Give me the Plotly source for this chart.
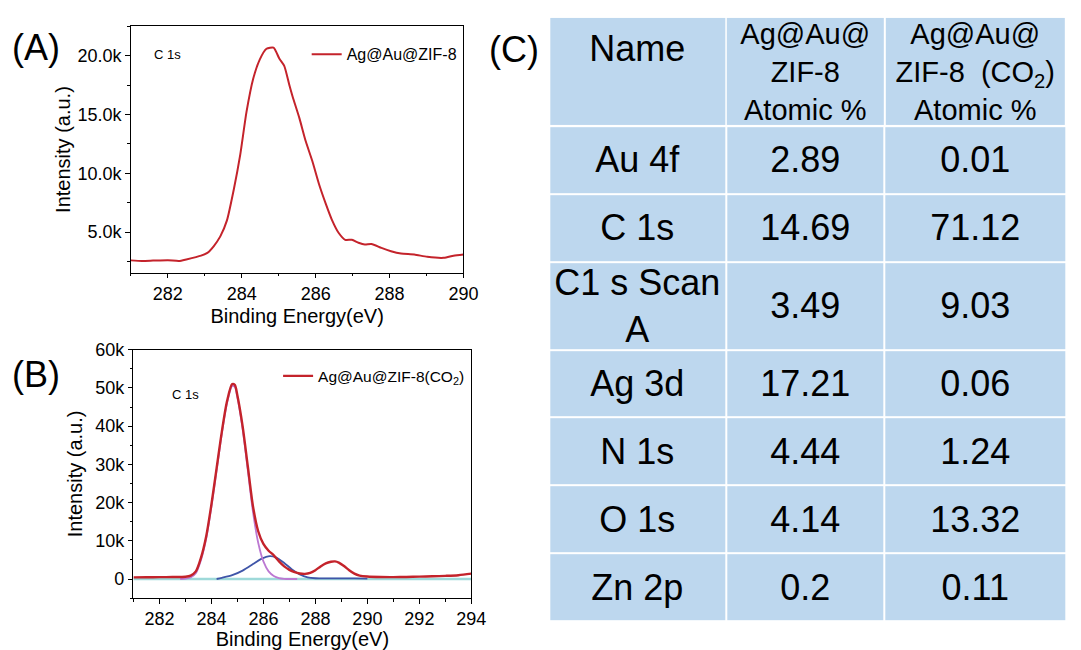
import plotly.graph_objects as go

# ---------------- data ----------------
# (A) Ag@Au@ZIF-8, C 1s
a_energy = [281.0, 281.3, 281.6, 282.0, 282.3, 282.5, 282.9, 283.07, 283.24, 283.42,
            283.6, 283.78, 283.96, 284.13, 284.31, 284.49, 284.67, 284.86, 285.02, 285.15,
            285.29, 285.38, 285.56, 285.73, 285.91, 286.09, 286.27, 286.44, 286.62, 286.8,
            286.98, 287.16, 287.33, 287.51, 287.78, 288.04, 288.31, 288.67, 289.02, 289.47,
            289.73, 290.0]
a_intensity = [2600, 2550, 2580, 2620, 2550, 2680, 3000, 3240, 3800, 4640,
               6000, 8550, 11600, 15250, 18050, 19700, 20600, 20700, 19750, 19150,
               17500, 16500, 14700, 12750, 11050, 9100, 7450, 6050, 4950, 4350,
               4350, 4100, 3950, 4000, 3660, 3380, 3180, 3100, 2900, 2820,
               3000, 3100]

# (B) Ag@Au@ZIF-8(CO2), C 1s envelope
b_energy = [281.0, 281.5, 282.0, 282.5, 283.0, 283.2, 283.4, 283.6, 283.8, 284.0,
            284.2, 284.4, 284.6, 284.8, 284.9, 285.0, 285.2, 285.4, 285.6, 285.8,
            286.0, 286.2, 286.4, 286.6, 286.8, 287.0, 287.2, 287.4, 287.6, 287.8,
            288.0, 288.2, 288.4, 288.6, 288.75, 288.9, 289.1, 289.3, 289.5, 289.7,
            290.0, 290.5, 291.0, 291.5, 292.0, 292.5, 293.0, 293.5, 294.0]
b_intensity = [430, 450, 480, 520, 600, 900, 2000, 5600, 11200, 19500,
               29000, 38500, 46500, 51000, 50800, 48000, 40000, 29500, 19000, 12500,
               9200, 7400, 6200, 4600, 3300, 2400, 1800, 1450, 1350, 1600,
               2300, 3300, 4100, 4500, 4600, 4300, 3400, 2300, 1400, 900,
               650, 520, 500, 540, 620, 700, 820, 1000, 1400]

# (B) fitted component at ~284.8 eV
p1_energy = [282.8, 283.0, 283.2, 283.4, 283.6, 283.8, 284.0, 284.2, 284.4, 284.6,
             284.8, 284.9, 285.0, 285.2, 285.4, 285.6, 285.8, 286.0, 286.2, 286.4,
             286.6, 286.8, 287.0, 287.3]
p1_intensity = [0, 100, 400, 1500, 5000, 10600, 18900, 28400, 38000, 46000,
                50500, 50300, 47500, 39300, 28500, 17500, 9500, 4600, 2000, 800,
                250, 60, 0, 0]

# (B) fitted component at ~286.3 eV
p2_energy = [284.2, 284.4, 284.8, 285.2, 285.6, 285.9, 286.25, 286.5, 286.8,
             287.1, 287.4, 287.7, 288.0, 288.5, 289.0, 289.5, 290.0]
p2_intensity = [0, 300, 1000, 2200, 3900, 5200, 6000, 5600, 4200,
                2500, 1200, 450, 200, 150, 150, 150, 100]

# (B) zero baseline
base_energy = [281.0, 294.0]
base_intensity = [0, 0]

# tick labels
a_xticks = [282, 284, 286, 288, 290]
a_yticks = [5000, 10000, 15000, 20000]
a_yticklabels = ["5.0k", "10.0k", "15.0k", "20.0k"]
b_xticks = [282, 284, 286, 288, 290, 292, 294]
b_yticks = [0, 10000, 20000, 30000, 40000, 50000, 60000]
b_yticklabels = ["0", "10k", "20k", "30k", "40k", "50k", "60k"]

# (C) table
tbl_header = ["Name", "Ag@Au@<br>ZIF-8<br>Atomic %", "Ag@Au@<br>ZIF-8  (CO<sub>2</sub>)<br>Atomic %"]
tbl_names = ["Au 4f", "C 1s", "C1 s Scan<br>A", "Ag 3d", "N 1s", "O 1s", "Zn 2p"]
tbl_zif8 = ["2.89", "14.69", "3.49", "17.21", "4.44", "4.14", "0.2"]
tbl_zif8_co2 = ["0.01", "71.12", "9.03", "0.06", "1.24", "13.32", "0.11"]

# ---------------- styles / layout sizes ----------------
FONT = "Liberation Sans, Arial, sans-serif"
RED = "#C4232B"
ORCHID = "#BC78D2"
BLUE = "#3F55A8"
CYAN = "#9ED9D9"
CELL = "#BDD7EE"
W, H = 1081, 650

col_widths = [179, 161, 184]          # table column widths (px)
header_height = 111                   # table header row height (px)
row_heights = [69, 69, 89, 69, 69, 69, 69]

def cumulative(start, sizes):
    edges = [start]
    for s in sizes:
        edges.append(edges[-1] + s)
    return edges

col_edges = cumulative(0, col_widths)
row_edges = cumulative(header_height, row_heights)
table_w = col_edges[-1]
table_h = row_edges[-1]

fig = go.Figure()

# (A)
fig.add_trace(go.Scatter(x=a_energy, y=a_intensity, mode="lines", name="Ag@Au@ZIF-8",
                         line=dict(color=RED, width=2, shape="spline", smoothing=0.6),
                         xaxis="x", yaxis="y", legend="legend"))
# (B)
fig.add_trace(go.Scatter(x=base_energy, y=base_intensity, mode="lines", showlegend=False,
                         line=dict(color=CYAN, width=2.4), xaxis="x2", yaxis="y2"))
fig.add_trace(go.Scatter(x=p2_energy, y=p2_intensity, mode="lines", showlegend=False,
                         line=dict(color=BLUE, width=1.8, shape="spline", smoothing=0.8),
                         xaxis="x2", yaxis="y2"))
fig.add_trace(go.Scatter(x=p1_energy, y=p1_intensity, mode="lines", showlegend=False,
                         line=dict(color=ORCHID, width=1.8, shape="spline", smoothing=0.8),
                         xaxis="x2", yaxis="y2"))
fig.add_trace(go.Scatter(x=b_energy, y=b_intensity, mode="lines", name="Ag@Au@ZIF-8(CO<sub>2</sub>)",
                         line=dict(color=RED, width=2.4, shape="spline", smoothing=0.8),
                         xaxis="x2", yaxis="y2", legend="legend2"))

# (C) table drawn as cells on its own axes
cell_common = dict(colorscale=[[0, CELL], [1, CELL]], zmin=0, zmax=1, showscale=False,
                   hoverinfo="skip", xgap=2, ygap=2, texttemplate="%{text}",
                   xaxis="x3", yaxis="y3")
# header: first column ("Name", sits in upper half of the cell)
fig.add_trace(go.Heatmap(x=col_edges[:2], y=[0, header_height], z=[[1]],
                         text=[[tbl_header[0] + "<br> "]],
                         textfont=dict(family=FONT, size=36, color="black"), **cell_common))
# header: other columns
fig.add_trace(go.Heatmap(x=col_edges[1:], y=[0, header_height], z=[[1] * (len(tbl_header) - 1)],
                         text=[tbl_header[1:]],
                         textfont=dict(family=FONT, size=29, color="black"), **cell_common))
# body
body_text = [list(r) for r in zip(tbl_names, tbl_zif8, tbl_zif8_co2)]
fig.add_trace(go.Heatmap(x=col_edges, y=row_edges, z=[[1] * 3 for _ in body_text],
                         text=body_text,
                         textfont=dict(family=FONT, size=36, color="black"), **cell_common))

axis_common = dict(showline=True, linecolor="black", linewidth=1.3, mirror=True,
                   ticks="outside", ticklen=4.5, tickwidth=1.3, tickcolor="black",
                   showgrid=False, zeroline=False,
                   tickfont=dict(family=FONT, size=18, color="black"),
                   title_font=dict(family=FONT, size=20, color="black"))
minor_common = dict(ticks="outside", ticklen=2.5, tickwidth=1.1, tickcolor="black")

fig.update_layout(
    width=W, height=H, margin=dict(l=0, r=0, t=0, b=0),
    paper_bgcolor="white", plot_bgcolor="white",
    font=dict(family=FONT, color="black"),
    xaxis=dict(axis_common, domain=[132.7 / W, 470 / W], range=[281, 290],
               tickvals=a_xticks, title=dict(text="Binding Energy(eV)", standoff=6),
               minor=dict(minor_common, dtick=1, tick0=281), anchor="y"),
    yaxis=dict(axis_common, domain=[1 - 266.7 / H, 1 - 16.7 / H], range=[1560, 22500],
               tickvals=a_yticks, ticktext=a_yticklabels,
               title=dict(text="Intensity (a.u.)", standoff=1),
               minor=dict(minor_common, dtick=2500, tick0=0), anchor="x"),
    xaxis2=dict(axis_common, domain=[135.3 / W, 478 / W], range=[281, 294],
                tickvals=b_xticks, title=dict(text="Binding Energy(eV)", standoff=6),
                minor=dict(minor_common, dtick=1, tick0=281), anchor="y2"),
    yaxis2=dict(axis_common, domain=[1 - 597.3 / H, 1 - 345 / H], range=[-5000, 60000],
                tickvals=b_yticks, ticktext=b_yticklabels,
                title=dict(text="Intensity (a.u.)", standoff=7),
                minor=dict(minor_common, dtick=5000, tick0=0), anchor="x2"),
    xaxis3=dict(domain=[557 / W, 557 / W + table_w / W], range=[0, table_w], visible=False,
                fixedrange=True, anchor="y3"),
    yaxis3=dict(domain=[1 - (7 + table_h) / H, 1 - 7 / H], range=[table_h, 0], visible=False,
                fixedrange=True, anchor="x3"),
    legend=dict(x=311 / W, y=1 - 45 / H, xanchor="left", yanchor="middle", bgcolor="rgba(0,0,0,0)",
                font=dict(family=FONT, size=16, color="black"), itemwidth=30, tracegroupgap=0),
    legend2=dict(x=282 / W, y=1 - 372 / H, xanchor="left", yanchor="middle", bgcolor="rgba(0,0,0,0)",
                 font=dict(family=FONT, size=15.5, color="black"), itemwidth=30, tracegroupgap=0),
    showlegend=True,
)

annotations = [
    dict(text="(A)", x=36 / W, y=1 - 38 / H),
    dict(text="(B)", x=36 / W, y=1 - 370 / H),
    dict(text="(C)", x=521 / W, y=1 - 40 / H),
]
for a in annotations:
    fig.add_annotation(xref="paper", yref="paper", showarrow=False, xanchor="center", yanchor="middle",
                       font=dict(family=FONT, size=36, color="black"), **a)

fig.add_annotation(xref="x domain", yref="y domain", x=(170 - 132.7) / (470 - 132.7),
                   y=(266.7 - 45) / 250, text="C 1s", showarrow=False,
                   xanchor="center", yanchor="middle",
                   font=dict(family=FONT, size=13, color="black"))
fig.add_annotation(xref="x2 domain", yref="y2 domain", x=(188 - 135.3) / (478 - 135.3),
                   y=(597.3 - 390) / 252.3, text="C 1s", showarrow=False,
                   xanchor="center", yanchor="middle",
                   font=dict(family=FONT, size=13, color="black"))

fig.write_html("out.html", config={"displayModeBar": False},
               post_script="document.body.style.margin='0';document.body.style.overflow='hidden';")
